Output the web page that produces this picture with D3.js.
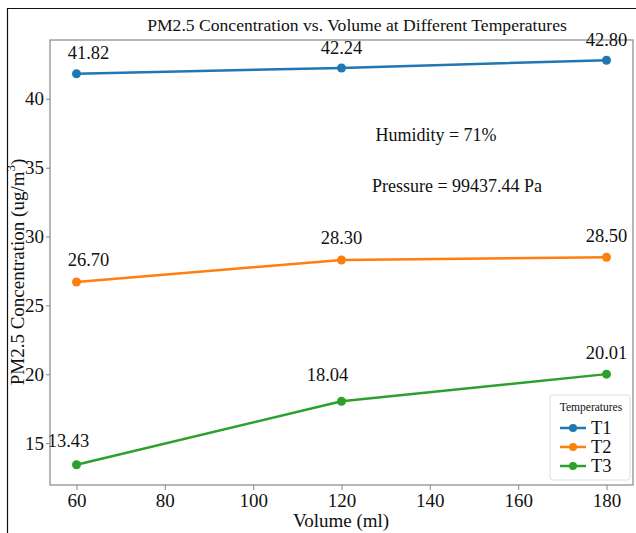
<!DOCTYPE html>
<html>
<head>
<meta charset="utf-8">
<script src="https://cdn.jsdelivr.net/npm/d3@7"></script>
<style>
  body { margin: 0; background: #fff; }
  svg text { font-family: "Liberation Serif", "Times New Roman", serif; }
</style>
</head>
<body>
<div id="chart"></div>
<script>
// data
var volumes = [60, 120, 180];
var seriesNames = ["T1", "T2", "T3"];
var t1 = [41.82, 42.24, 42.80];
var t2 = [26.70, 28.30, 28.50];
var t3 = [13.43, 18.04, 20.01];
var xTicks = [60, 80, 100, 120, 140, 160, 180];
var yTicks = [15, 20, 25, 30, 35, 40];
var colors = ["#1f77b4", "#ff7f0e", "#2ca02c"];

// label nudges (pixels), per series / point
var labelShift = [
    [[12, -15], [0, -14], [0, -14]],
    [[12, -16], [0, -16], [0, -15]],
    [[-8, -18], [-14, -20], [0, -15]]
];

var series = [t1, t2, t3];

// set the dimensions and margins of the graph
var margin = { top: 40, right: 3, bottom: 48, left: 50 },
    width = 636 - margin.left - margin.right,
    height = 533 - margin.top - margin.bottom;

var root = d3.select("#chart")
    .append("svg")
    .attr("width", 636)
    .attr("height", 533)
    .attr("font-family", "'Liberation Serif', serif");

// outer frame
root.append("path")
    .attr("d", "M7.5,533 L7.5,8.5 L636,8.5")
    .attr("fill", "none")
    .attr("stroke", "#111")
    .attr("stroke-width", 1.2);

var svg = root.append("g")
    .attr("transform", "translate(" + margin.left + "," + margin.top + ")");

var x = d3.scaleLinear()
    .domain([54, 186])
    .range([0, 583]);

var y = d3.scaleLinear()
    .domain([11.96, 44.27])
    .range([445, 0]);

// X axis
var xAxis = svg.append("g")
    .attr("transform", "translate(0,445)")
    .call(d3.axisBottom(x).tickValues(xTicks).tickSize(5).tickPadding(4));
xAxis.select(".domain").remove();
xAxis.selectAll("line").attr("stroke", "#888");
xAxis.selectAll("text")
    .attr("fill", "#111")
    .style("font-size", "19px")
    .style("font-family", "'Liberation Serif', serif");

// Y axis
var yAxis = svg.append("g")
    .call(d3.axisLeft(y).tickValues(yTicks).tickSize(4).tickPadding(2));
yAxis.select(".domain").remove();
yAxis.selectAll("line").attr("stroke", "#888");
yAxis.selectAll("text")
    .attr("fill", "#111")
    .style("font-size", "19px")
    .style("font-family", "'Liberation Serif', serif");

// plot frame
svg.append("rect")
    .attr("x", 0)
    .attr("y", 0)
    .attr("width", 583)
    .attr("height", 445)
    .attr("fill", "none")
    .attr("stroke", "#888")
    .attr("stroke-width", 1.2);

// title
root.append("text")
    .attr("x", 357)
    .attr("y", 31)
    .attr("text-anchor", "middle")
    .style("font-size", "17.6px")
    .attr("fill", "#111")
    .text("PM2.5 Concentration vs. Volume at Different Temperatures");

// x label
root.append("text")
    .attr("x", 341)
    .attr("y", 527)
    .attr("text-anchor", "middle")
    .style("font-size", "19px")
    .attr("fill", "#111")
    .text("Volume (ml)");

// y label
var yl = root.append("text")
    .attr("transform", "translate(24,272) rotate(-90)")
    .attr("text-anchor", "middle")
    .style("font-size", "19px")
    .attr("fill", "#111");
yl.append("tspan").text("PM2.5 Concentration (ug/m");
yl.append("tspan").attr("dy", -9).style("font-size", "13px").text("3");
yl.append("tspan").attr("dy", 9).text(")");

// lines
var line = d3.line()
    .x(function (d, i) { return x(volumes[i]); })
    .y(function (d) { return y(d); });

series.forEach(function (s, k) {
    svg.append("path")
        .datum(s)
        .attr("fill", "none")
        .attr("stroke", colors[k])
        .attr("stroke-width", 2.5)
        .attr("d", line);

    svg.selectAll(".pt" + k)
        .data(s)
        .enter()
        .append("circle")
        .attr("cx", function (d, i) { return x(volumes[i]); })
        .attr("cy", function (d) { return y(d); })
        .attr("r", 4.5)
        .attr("fill", colors[k]);

    svg.selectAll(".lbl" + k)
        .data(s)
        .enter()
        .append("text")
        .attr("x", function (d, i) { return x(volumes[i]) + labelShift[k][i][0]; })
        .attr("y", function (d, i) { return y(d) + labelShift[k][i][1]; })
        .attr("text-anchor", "middle")
        .style("font-size", "18.5px")
        .attr("fill", "#111")
        .text(function (d) { return d.toFixed(2); });
});

// annotations
svg.append("text")
    .attr("x", 386)
    .attr("y", 101)
    .attr("text-anchor", "middle")
    .style("font-size", "18px")
    .attr("fill", "#111")
    .text("Humidity = 71%");
svg.append("text")
    .attr("x", 407)
    .attr("y", 152)
    .attr("text-anchor", "middle")
    .style("font-size", "18px")
    .attr("fill", "#111")
    .text("Pressure = 99437.44 Pa");

// legend
var lg = svg.append("g")
    .attr("transform", "translate(500,355)");
lg.append("rect")
    .attr("width", 80)
    .attr("height", 85)
    .attr("rx", 3)
    .attr("fill", "#fff")
    .attr("fill-opacity", 0.8)
    .attr("stroke", "#ddd");
lg.append("text")
    .attr("x", 41)
    .attr("y", 16)
    .attr("text-anchor", "middle")
    .style("font-size", "11.5px")
    .attr("fill", "#111")
    .text("Temperatures");
seriesNames.forEach(function (n, k) {
    var gy = 33 + k * 19;
    lg.append("line")
        .attr("x1", 10).attr("x2", 36)
        .attr("y1", gy).attr("y2", gy)
        .attr("stroke", colors[k])
        .attr("stroke-width", 2.5);
    lg.append("circle")
        .attr("cx", 23).attr("cy", gy)
        .attr("r", 4)
        .attr("fill", colors[k]);
    lg.append("text")
        .attr("x", 41)
        .attr("y", gy + 6)
        .style("font-size", "18.5px")
        .attr("fill", "#111")
        .text(n);
});
</script>
</body>
</html>
